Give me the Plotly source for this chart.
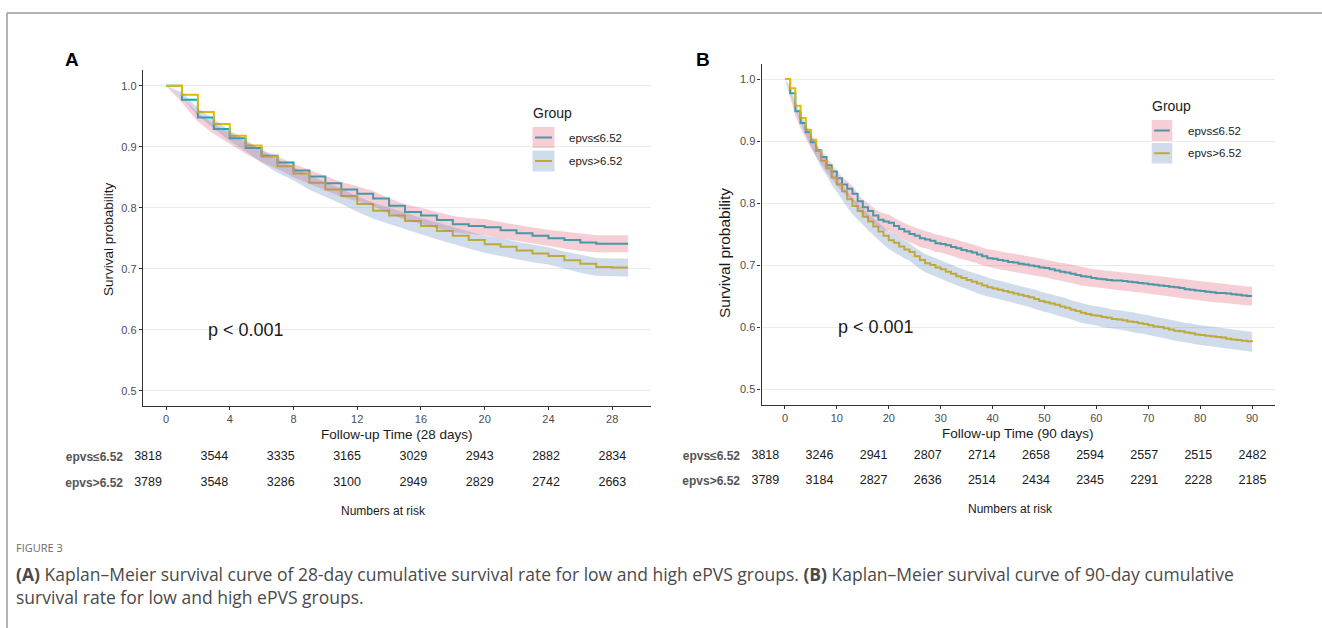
import plotly.graph_objects as go

W, H = 1322, 628

# ---------------- data ----------------
groups = ["epvs≤6.52", "epvs>6.52"]

# Panel A (28-day), survival after each daily step, days 0..29
days_a = list(range(30))
low_a = [1.000, 0.977, 0.948, 0.929, 0.914, 0.898, 0.885, 0.874, 0.861, 0.851,
         0.840, 0.830, 0.823, 0.815, 0.803, 0.793, 0.787, 0.780, 0.773, 0.770,
         0.768, 0.763, 0.758, 0.754, 0.750, 0.747, 0.743, 0.741, 0.741, 0.741]
high_a = [1.000, 0.985, 0.957, 0.937, 0.918, 0.902, 0.884, 0.868, 0.856, 0.841,
          0.830, 0.819, 0.806, 0.795, 0.787, 0.778, 0.770, 0.762, 0.754, 0.747,
          0.740, 0.736, 0.730, 0.725, 0.721, 0.714, 0.708, 0.703, 0.702, 0.702]
low_a_hw = [0, .0048, .0070, .0081, .0089, .0096, .0101, .0105, .0110, .0113,
            .0116, .0119, .0121, .0123, .0126, .0128, .0129, .0131, .0132, .0133,
            .0133, .0134, .0135, .0136, .0137, .0137, .0138, .0139, .0139, .0139]
high_a_hw = [0, .0039, .0065, .0077, .0087, .0095, .0102, .0108, .0112, .0117,
             .0120, .0124, .0127, .0130, .0131, .0133, .0135, .0137, .0138, .0139,
             .0140, .0141, .0142, .0143, .0143, .0144, .0145, .0146, .0146, .0146]

# Panel B (90-day), days 0..90 (first 28 days shared with panel A)
days_b = list(range(91))
low_b = low_a[:28] + [
    0.739, 0.735, 0.734, 0.732, 0.729, 0.727, 0.724, 0.722, 0.720, 0.717, 0.714, 0.711,
    0.710, 0.708, 0.707, 0.705, 0.704, 0.702, 0.701, 0.699, 0.698, 0.696,
    0.695, 0.693, 0.691, 0.689, 0.688, 0.686, 0.684, 0.682, 0.681, 0.679,
    0.678, 0.677, 0.676, 0.675, 0.675, 0.674, 0.673, 0.672, 0.671, 0.670,
    0.669, 0.668, 0.667, 0.666, 0.665, 0.664, 0.663, 0.661, 0.660, 0.659,
    0.658, 0.657, 0.656, 0.655, 0.655, 0.654, 0.653, 0.652, 0.651, 0.650, 0.650]
high_b = high_a[:28] + [
    0.700, 0.696, 0.693, 0.689, 0.686, 0.682, 0.679, 0.676, 0.673, 0.670, 0.667, 0.664,
    0.662, 0.660, 0.658, 0.656, 0.654, 0.652, 0.650, 0.648, 0.645, 0.642,
    0.640, 0.638, 0.636, 0.633, 0.631, 0.628, 0.626, 0.623, 0.621, 0.619,
    0.618, 0.616, 0.615, 0.613, 0.612, 0.611, 0.609, 0.608, 0.606, 0.605,
    0.603, 0.601, 0.600, 0.598, 0.596, 0.594, 0.593, 0.591, 0.590, 0.588,
    0.587, 0.586, 0.585, 0.584, 0.583, 0.581, 0.580, 0.579, 0.578, 0.577, 0.576]
low_b_hw = low_a_hw[:28] + [
    .0139, .0140, .0140, .0141, .0141, .0142, .0142, .0143, .0143, .0143, .0144, .0144,
    .0144, .0145, .0145, .0145, .0145, .0146, .0146, .0146, .0146, .0147,
    .0147, .0147, .0147, .0148, .0148, .0148, .0148, .0149, .0149, .0149,
    .0149, .0149, .0150, .0150, .0150, .0150, .0150, .0150, .0151, .0151,
    .0151, .0151, .0151, .0151, .0151, .0152, .0152, .0152, .0152, .0152,
    .0152, .0152, .0153, .0153, .0153, .0153, .0153, .0153, .0153, .0154, .0154]
high_b_hw = high_a_hw[:28] + [
    .0147, .0148, .0148, .0149, .0149, .0150, .0150, .0151, .0151, .0152, .0152, .0152,
    .0153, .0153, .0153, .0154, .0154, .0154, .0154, .0155, .0155, .0155,
    .0155, .0155, .0156, .0156, .0156, .0156, .0157, .0157, .0157, .0157,
    .0157, .0158, .0158, .0158, .0158, .0158, .0158, .0158, .0159, .0159,
    .0159, .0159, .0159, .0159, .0159, .0159, .0160, .0160, .0160, .0160,
    .0160, .0160, .0160, .0160, .0160, .0161, .0161, .0161, .0161, .0161, .0161]

# Numbers at risk
risk_t_a = [0, 4, 8, 12, 16, 20, 24, 28]
risk_low_a = [3818, 3544, 3335, 3165, 3029, 2943, 2882, 2834]
risk_high_a = [3789, 3548, 3286, 3100, 2949, 2829, 2742, 2663]
risk_t_b = [0, 10, 20, 30, 40, 50, 60, 70, 80, 90]
risk_low_b = [3818, 3246, 2941, 2807, 2714, 2658, 2594, 2557, 2515, 2482]
risk_high_b = [3789, 3184, 2827, 2636, 2514, 2434, 2345, 2291, 2228, 2185]

ticks_y = [0.5, 0.6, 0.7, 0.8, 0.9, 1.0]

# ---------------- styles ----------------
FONT = "Liberation Sans, Arial, sans-serif"
C_LOW = "#00AFBB"
C_HIGH = "#E7B800"
F_LOW = "rgba(225,105,125,0.32)"
F_HIGH = "rgba(98,138,188,0.30)"
TICK_C = "#4D4D4D"


def px(x):
    return x / W


def py(y):
    return 1 - y / H


fig = go.Figure()


def add_panel(xa, ya, days, low, high, lhw, hhw):
    # lines first (bands drawn over them, as in the original)
    fig.add_trace(go.Scatter(x=days, y=low, mode="lines", line=dict(color=C_LOW, width=2, shape="hv"),
                             xaxis=xa, yaxis=ya, showlegend=False, hoverinfo="skip"))
    fig.add_trace(go.Scatter(x=days, y=high, mode="lines", line=dict(color=C_HIGH, width=2, shape="hv"),
                             xaxis=xa, yaxis=ya, showlegend=False, hoverinfo="skip"))
    for s, hw, fc in [(low, lhw, F_LOW), (high, hhw, F_HIGH)]:
        up = [v + h for v, h in zip(s, hw)]
        lo = [v - h for v, h in zip(s, hw)]
        fig.add_trace(go.Scatter(x=days + days[::-1], y=up + lo[::-1], mode="lines", fill="toself",
                                 fillcolor=fc, line=dict(width=0), xaxis=xa, yaxis=ya,
                                 showlegend=False, hoverinfo="skip"))


add_panel("x", "y", days_a, low_a, high_a, low_a_hw, high_a_hw)
add_panel("x2", "y2", days_b, low_b, high_b, low_b_hw, high_b_hw)

# risk tables
for xa, ya, t, rl, rh in [("x3", "y3", risk_t_a, risk_low_a, risk_high_a),
                          ("x4", "y4", risk_t_b, risk_low_b, risk_high_b)]:
    fig.add_trace(go.Scatter(x=t + t, y=[groups[0]] * len(t) + [groups[1]] * len(t),
                             text=[str(v) for v in rl + rh], mode="text",
                             textfont=dict(family=FONT, size=12.5, color="#1a1a1a"),
                             xaxis=xa, yaxis=ya, showlegend=False, cliponaxis=False,
                             hoverinfo="skip"))

axis_common = dict(showline=True, linecolor="#333333", linewidth=1.3, ticks="outside",
                   ticklen=3, tickcolor="#333333", tickwidth=1,
                   tickfont=dict(family=FONT, size=11, color=TICK_C), zeroline=False)

risk_tickfont = dict(family=FONT, size=12, color="#555555", weight="bold")

layout = dict(
    width=W, height=H, margin=dict(l=0, r=0, t=0, b=0),
    paper_bgcolor="white", plot_bgcolor="white", showlegend=False,
    xaxis=dict(domain=[px(142.9), px(651.2)], range=[-1.45, 30.45], tickvals=risk_t_a,
               showgrid=False, anchor="y", **axis_common),
    yaxis=dict(domain=[py(406.0), py(70.4)], range=[0.475, 1.025], tickvals=ticks_y,
               tickformat=".1f", showgrid=True, gridcolor="#EBEBEB", gridwidth=1, anchor="x",
               **axis_common),
    xaxis2=dict(domain=[px(761.6), px(1275.4)], range=[-4.5, 94.5], tickvals=risk_t_b,
                showgrid=False, anchor="y2", **axis_common),
    yaxis2=dict(domain=[py(404.5), py(63.5)], range=[0.475, 1.025], tickvals=ticks_y,
                tickformat=".1f", showgrid=True, gridcolor="#EBEBEB", gridwidth=1, anchor="x2",
                **axis_common),
    xaxis3=dict(domain=[px(124.0), px(653.0)], range=[-1.45, 30.45], visible=False, anchor="y3"),
    yaxis3=dict(domain=[py(496), py(444)], categoryorder="array", categoryarray=groups[::-1],
                range=[-0.5, 1.5], showline=False, showgrid=False, zeroline=False, ticks="",
                tickfont=risk_tickfont, anchor="x3"),
    xaxis4=dict(domain=[px(741.0), px(1276.8)], range=[-4.5, 94.5], visible=False, anchor="y4"),
    yaxis4=dict(domain=[py(493.5), py(443.5)], categoryorder="array", categoryarray=groups[::-1],
                range=[-0.5, 1.5], showline=False, showgrid=False, zeroline=False, ticks="",
                tickfont=risk_tickfont, anchor="x4"),
)
fig.update_layout(**layout)

shapes = []
# outer frame (left and top borders)
shapes.append(dict(type="line", xref="paper", yref="paper", x0=px(7), x1=px(7), y0=py(13), y1=py(640),
                   line=dict(color="#9A9A9A", width=1.5)))
shapes.append(dict(type="line", xref="paper", yref="paper", x0=px(7), x1=px(1330), y0=py(13), y1=py(13),
                   line=dict(color="#9A9A9A", width=1.5)))

annotations = []


def note(x, y, text, size, color="#1a1a1a", xanchor="center", angle=0, family=FONT, align="center"):
    annotations.append(dict(x=px(x), y=py(y), xref="paper", yref="paper", text=text, textangle=angle,
                            showarrow=False, xanchor=xanchor, yanchor="middle", align=align,
                            font=dict(family=family, size=size, color=color)))


def legend(bg, gx, gy, kx0, kx1, k1, k2, tx):
    shapes.append(dict(type="rect", xref="paper", yref="paper", x0=px(bg[0]), x1=px(bg[1]),
                       y0=py(bg[3]), y1=py(bg[2]), fillcolor="white", line=dict(width=0),
                       layer="between"))
    note(gx, gy, "Group", 14, xanchor="left")
    for (y0, y1), col, fc, lab in [(k1, C_LOW, F_LOW, groups[0]), (k2, C_HIGH, F_HIGH, groups[1])]:
        ym = (y0 + y1) / 2
        shapes.append(dict(type="line", xref="paper", yref="paper", x0=px(kx0 + 2.5), x1=px(kx1 - 2.5),
                           y0=py(ym), y1=py(ym), line=dict(color=col, width=2), layer="above"))
        shapes.append(dict(type="rect", xref="paper", yref="paper", x0=px(kx0), x1=px(kx1),
                           y0=py(y1), y1=py(y0), fillcolor=fc, line=dict(width=0), layer="above"))
        note(tx, ym, lab, 11.5, xanchor="left")


legend((524, 637, 100, 176), 531, 113, 532.5, 554.5, (127, 148), (150.5, 171.5), 567)
legend((1143, 1254, 93, 168), 1150, 106, 1151.7, 1172.3, (120, 141), (143, 163.5), 1186)

# panel letters
note(72, 59, "<b>A</b>", 19, color="black")
note(703, 59, "<b>B</b>", 19, color="black")

# p-values (data coordinates)
annotations.append(dict(x=5, y=0.6, xref="x", yref="y", text="p < 0.001", showarrow=False,
                        xanchor="center", yanchor="middle",
                        font=dict(family=FONT, size=18, color="#1a1a1a")))
annotations.append(dict(x=17.6, y=0.6, xref="x2", yref="y2", text="p < 0.001", showarrow=False,
                        xanchor="center", yanchor="middle",
                        font=dict(family=FONT, size=18, color="#1a1a1a")))

# axis titles
note(397, 434, "Follow-up Time (28 days)", 13.5)
note(1018, 433, "Follow-up Time (90 days)", 13.5)
note(108, 239, "Survival probability", 13.5, angle=-90)
note(725, 253, "Survival probability", 15.5, angle=-90)
note(383, 511, "Numbers at risk", 12)
note(1010, 509, "Numbers at risk", 12)

# caption
CAP = "Open Sans, sans-serif"
note(14, 547, "FIGURE 3", 11, color="#6b6b6b", xanchor="left", family=CAP)
note(14, 585.5,
     "<b>(A)</b> Kaplan–Meier survival curve of 28-day cumulative survival rate for low and high ePVS groups. "
     "<b>(B)</b> Kaplan–Meier survival curve of 90-day cumulative<br>survival rate for low and high ePVS groups.",
     17.5, color="#4a4a4a", xanchor="left", family=CAP, align="left")

fig.update_layout(shapes=shapes, annotations=annotations)
fig.write_html("out.html", config={"displayModeBar": False},
               post_script="document.body.style.margin='0';document.body.style.overflow='hidden';")
